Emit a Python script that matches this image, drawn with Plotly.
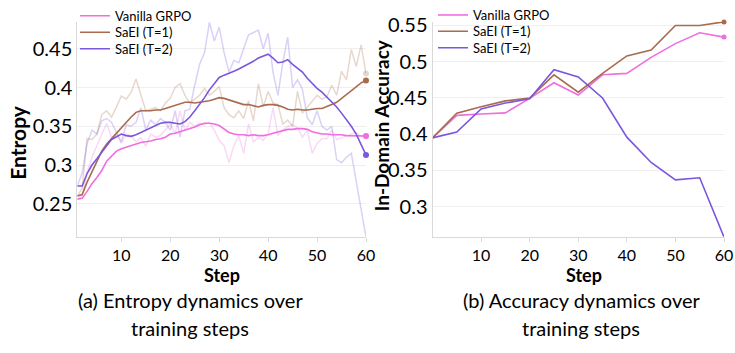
import plotly.graph_objects as go

# ---------------- data ----------------
steps = list(range(1, 61))

vanilla_raw = [0.256, 0.26, 0.29, 0.31, 0.325, 0.34, 0.354, 0.335, 0.34, 0.328,
               0.34, 0.338, 0.33, 0.335, 0.324, 0.34, 0.336, 0.338, 0.345, 0.353,
               0.34, 0.37, 0.345, 0.355, 0.35, 0.354, 0.352, 0.355, 0.345, 0.332,
               0.325, 0.303, 0.325, 0.338, 0.315, 0.353, 0.33, 0.335, 0.332, 0.34,
               0.374, 0.338, 0.345, 0.35, 0.352, 0.348, 0.336, 0.345, 0.315, 0.328,
               0.334, 0.334, 0.345, 0.333, 0.335, 0.338, 0.34, 0.342, 0.337, 0.337]
vanilla_smooth = [0.256, 0.257, 0.266, 0.276, 0.284, 0.293, 0.305, 0.312, 0.318, 0.321,
                  0.323, 0.326, 0.328, 0.329, 0.33, 0.331, 0.333, 0.334, 0.336, 0.34,
                  0.341, 0.343, 0.345, 0.347, 0.349, 0.352, 0.354, 0.354, 0.353, 0.351,
                  0.347, 0.342, 0.34, 0.339, 0.339, 0.338, 0.339, 0.338, 0.338, 0.339,
                  0.341, 0.343, 0.345, 0.346, 0.346, 0.347, 0.347, 0.346, 0.343, 0.341,
                  0.34, 0.34, 0.339, 0.339, 0.339, 0.338, 0.338, 0.338, 0.338, 0.3375]

t1_raw = [0.26, 0.27, 0.334, 0.333, 0.34, 0.365, 0.37, 0.362, 0.375, 0.389,
          0.385, 0.394, 0.411, 0.39, 0.37, 0.372, 0.374, 0.37, 0.38, 0.386,
          0.4, 0.405, 0.39, 0.38, 0.385, 0.39, 0.399, 0.39, 0.395, 0.401,
          0.374, 0.365, 0.361, 0.37, 0.36, 0.383, 0.357, 0.405, 0.375, 0.395,
          0.38, 0.378, 0.353, 0.358, 0.35, 0.395, 0.367, 0.375, 0.382, 0.39,
          0.385, 0.388, 0.403, 0.39, 0.421, 0.41, 0.449, 0.427, 0.455, 0.418]
t1_smooth = [0.26, 0.262, 0.278, 0.291, 0.305, 0.318, 0.327, 0.334, 0.341, 0.349,
             0.355, 0.362, 0.368, 0.37, 0.37, 0.37, 0.371, 0.371, 0.373, 0.375,
             0.378, 0.38, 0.381, 0.381, 0.38, 0.381, 0.382, 0.383, 0.385, 0.387,
             0.386, 0.384, 0.382, 0.38, 0.378, 0.378, 0.376, 0.375, 0.377, 0.378,
             0.378, 0.377, 0.375, 0.372, 0.371, 0.372, 0.371, 0.371, 0.372, 0.373,
             0.373, 0.375, 0.378, 0.381, 0.386, 0.391, 0.396, 0.402, 0.406, 0.409]

t2_raw = [0.273, 0.29, 0.328, 0.345, 0.34, 0.357, 0.36, 0.355, 0.342, 0.33,
          0.352, 0.35, 0.355, 0.374, 0.345, 0.358, 0.352, 0.36, 0.355, 0.345,
          0.37, 0.336, 0.37, 0.372, 0.403, 0.43, 0.445, 0.484, 0.46, 0.478,
          0.445, 0.42, 0.435, 0.432, 0.45, 0.468, 0.471, 0.474, 0.45, 0.47,
          0.42, 0.39, 0.432, 0.465, 0.4, 0.41, 0.398, 0.361, 0.352, 0.37,
          0.35, 0.345, 0.35, 0.307, 0.303, 0.31, 0.315, 0.28, 0.245, 0.207]
t2_smooth = [0.273, 0.273, 0.289, 0.3, 0.308, 0.317, 0.325, 0.333, 0.337, 0.34,
             0.338, 0.337, 0.339, 0.342, 0.345, 0.348, 0.352, 0.354, 0.355, 0.355,
             0.354, 0.353, 0.356, 0.362, 0.37, 0.378, 0.387, 0.397, 0.405, 0.413,
             0.416, 0.418, 0.421, 0.424, 0.427, 0.43, 0.434, 0.438, 0.441, 0.443,
             0.438, 0.432, 0.433, 0.436, 0.43, 0.425, 0.42, 0.412, 0.405, 0.399,
             0.394, 0.388, 0.382, 0.375, 0.367, 0.359, 0.35, 0.34, 0.327, 0.313]

acc_steps = [0, 5, 10, 15, 20, 25, 30, 35, 40, 45, 50, 55, 60]
acc_vanilla = [0.395, 0.426, 0.428, 0.4295, 0.4495, 0.471, 0.454, 0.482, 0.484, 0.506, 0.525, 0.540, 0.534]
acc_t1 = [0.395, 0.429, 0.438, 0.446, 0.450, 0.482, 0.458, 0.484, 0.508, 0.516, 0.550, 0.550, 0.555]
acc_t2 = [0.395, 0.403, 0.435, 0.443, 0.449, 0.489, 0.479, 0.450, 0.396, 0.361, 0.337, 0.340, 0.258]

names = ["Vanilla GRPO", "SaEI (T=1)", "SaEI (T=2)"]
colors = ["#F06EDF", "#A86B4E", "#7B56DE"]
faint = ["rgba(240,110,223,0.27)", "rgba(168,107,78,0.27)", "rgba(123,86,222,0.27)"]

FONT = "Lato"

fig = go.Figure()

raws = [vanilla_raw, t1_raw, t2_raw]
smooths = [vanilla_smooth, t1_smooth, t2_smooth]
accs = [acc_vanilla, acc_t1, acc_t2]

W, H = 735, 353


def px(v):
    return v / W


def py(v):
    return (H - v) / H


for i in range(3):
    fig.add_trace(go.Scatter(
        x=steps, y=raws[i], mode="lines", line=dict(color=faint[i], width=1.5),
        showlegend=False, xaxis="x", yaxis="y", hoverinfo="skip"))
    fig.add_trace(go.Scatter(
        x=[steps[-1]], y=[raws[i][-1]], mode="markers",
        marker=dict(color=faint[i], size=6), showlegend=False,
        xaxis="x", yaxis="y", cliponaxis=False))
for i in range(3):
    fig.add_trace(go.Scatter(
        x=steps, y=smooths[i], mode="lines", line=dict(color=colors[i], width=1.6),
        name=names[i], legend="legend" if i == 0 else f"legend{i + 1}",
        xaxis="x", yaxis="y"))
    fig.add_trace(go.Scatter(
        x=[steps[-1]], y=[smooths[i][-1]], mode="markers",
        marker=dict(color=colors[i], size=6), showlegend=False,
        xaxis="x", yaxis="y", cliponaxis=False))
for i in range(3):
    fig.add_trace(go.Scatter(
        x=acc_steps, y=accs[i], mode="lines", line=dict(color=colors[i], width=1.6),
        name=names[i], legend=f"legend{i + 4}", xaxis="x2", yaxis="y2", cliponaxis=False))
    fig.add_trace(go.Scatter(
        x=[acc_steps[-1]], y=[accs[i][-1]], mode="markers",
        marker=dict(color=colors[i], size=5), showlegend=False,
        xaxis="x2", yaxis="y2", cliponaxis=False))

ydom = [py(233), py(11)]

axis_common = dict(showline=True, linecolor="#D9D9D9", linewidth=1, zeroline=False,
                   automargin=False)

legends = {}
for i, (yl, yr) in enumerate(zip([5, 22, 39], [4, 21, 38])):
    key_l = "legend" if i == 0 else f"legend{i + 1}"
    legends[key_l] = dict(x=px(75), y=py(yl), xanchor="left", yanchor="middle",
                          bgcolor="rgba(0,0,0,0)", font=dict(size=13, family=FONT),
                          itemwidth=30)
    legends[f"legend{i + 4}"] = dict(x=px(433), y=py(yr), xanchor="left", yanchor="middle",
                                     bgcolor="rgba(0,0,0,0)", font=dict(size=13, family=FONT),
                                     itemwidth=30)

fig.update_layout(
    width=W, height=H, autosize=False,
    margin=dict(l=0, r=0, t=0, b=0, pad=0),
    paper_bgcolor="white", plot_bgcolor="white",
    font=dict(family=FONT, color="black"),
    xaxis=dict(domain=[px(77.3), px(366)], range=[1, 60], tickvals=[10, 20, 30, 40, 50, 60],
               ticks="outside", ticklen=4, tickcolor="#D9D9D9", showgrid=False,
               tickfont=dict(size=16), anchor="y", **axis_common),
    yaxis=dict(domain=ydom, range=[0.2075, 0.485], tickvals=[0.25, 0.3, 0.35, 0.4, 0.45],
               ticktext=["0.25", "0.3", "0.35", "0.4", "0.45"],
               showgrid=True, gridcolor="#EFEFEF", ticks="", tickfont=dict(size=20),
               anchor="x", **axis_common),
    xaxis2=dict(domain=[px(432.5), px(724)], range=[0, 60], tickvals=[10, 20, 30, 40, 50, 60],
                ticks="outside", ticklen=4, tickcolor="#D9D9D9", showgrid=False,
                tickfont=dict(size=16), anchor="y2", **axis_common),
    yaxis2=dict(domain=ydom, range=[0.2586, 0.5553], tickvals=[0.3, 0.35, 0.4, 0.45, 0.5, 0.55],
                ticktext=["0.3", "0.35", "0.4", "0.45", "0.5", "0.55"],
                showgrid=True, gridcolor="#EFEFEF", ticks="", tickfont=dict(size=20),
                anchor="x2", **axis_common),
    **legends,
)

ann = [
    dict(text="<b>Entropy</b>", x=px(18), y=py(136), textangle=-90, font=dict(size=21)),
    dict(text="<b>In-Domain Accuracy</b>", x=px(381), y=py(118), textangle=-90, font=dict(size=19)),
    dict(text="<b>Step</b>", x=px(222), y=py(272), font=dict(size=18)),
    dict(text="<b>Step</b>", x=px(584), y=py(272), font=dict(size=18)),
    dict(text="(a) Entropy dynamics over", x=px(190), y=py(298), font=dict(size=20)),
    dict(text="training steps", x=px(190), y=py(327), font=dict(size=20)),
    dict(text="(b) Accuracy dynamics over", x=px(581), y=py(298), font=dict(size=20)),
    dict(text="training steps", x=px(581), y=py(327), font=dict(size=20)),
]
for a in ann:
    fig.add_annotation(xref="paper", yref="paper", showarrow=False,
                       xanchor="center", yanchor="middle", **a)

fig.write_html("out.html", config={"displayModeBar": False},
               post_script="document.body.style.margin='0';document.body.style.overflow='hidden';")
